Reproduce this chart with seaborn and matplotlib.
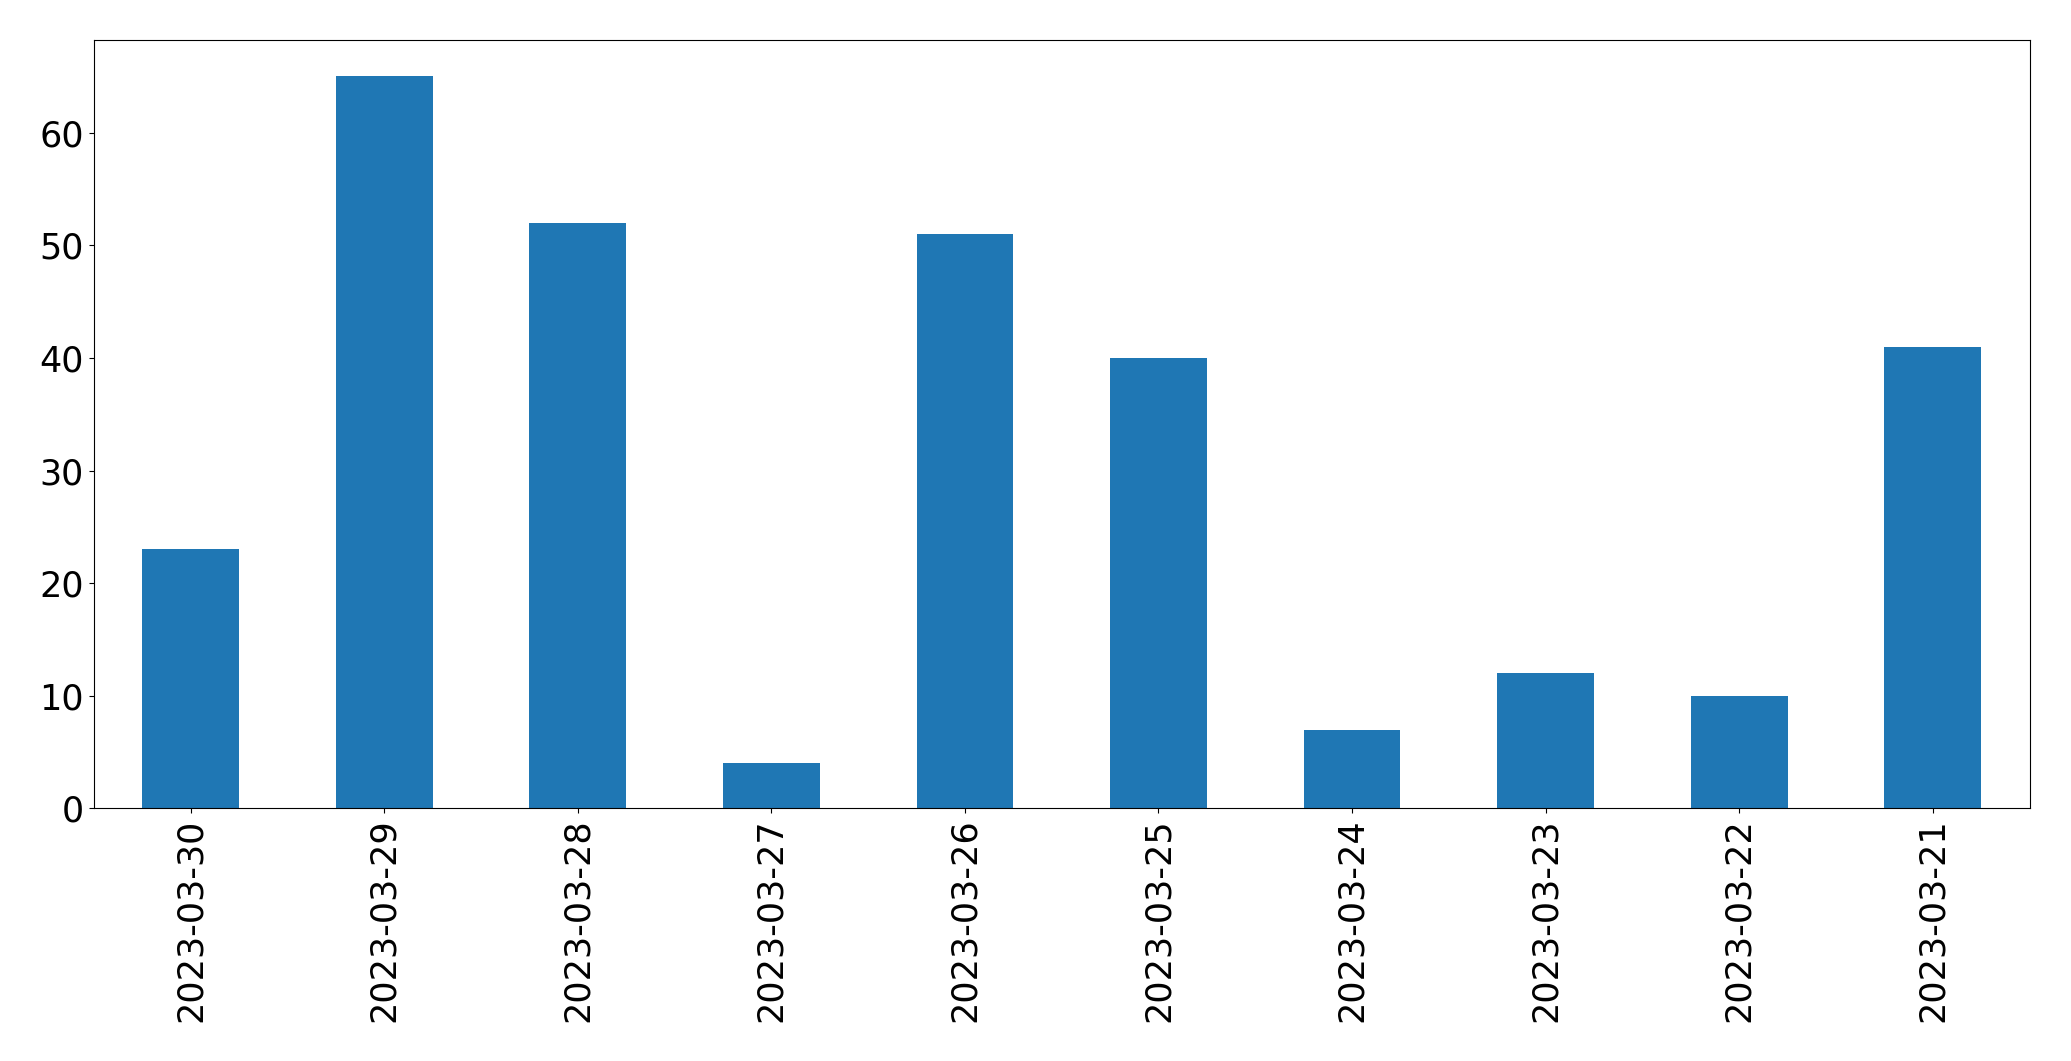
import matplotlib
matplotlib.use("Agg")
import matplotlib.pyplot as plt
import seaborn as sns
import pandas as pd

# dates (as shown, newest first) and counts
dates = ["2023-03-30", "2023-03-29", "2023-03-28", "2023-03-27", "2023-03-26",
         "2023-03-25", "2023-03-24", "2023-03-23", "2023-03-22", "2023-03-21"]
counts = [23, 65, 52, 4, 51, 40, 7, 12, 10, 41]

df = pd.DataFrame({"date": dates, "count": counts})

fig = plt.figure(figsize=(20.71, 10.61), dpi=100)
ax = fig.add_axes([0.0453, 0.238, 0.9347, 0.7246])

sns.barplot(data=df, x="date", y="count", order=dates, color="#1f77b4",
            saturation=1, width=0.5, linewidth=0, ax=ax)

ax.set_xlim(-0.5, len(dates) - 0.5)
ax.set_ylim(0, max(counts) * 1.05)
ax.set_xlabel("")
ax.set_ylabel("")
ax.tick_params(axis="both", labelsize=25.2)
ax.tick_params(axis="x", labelrotation=90)

fig.savefig("out.png", dpi=100)
